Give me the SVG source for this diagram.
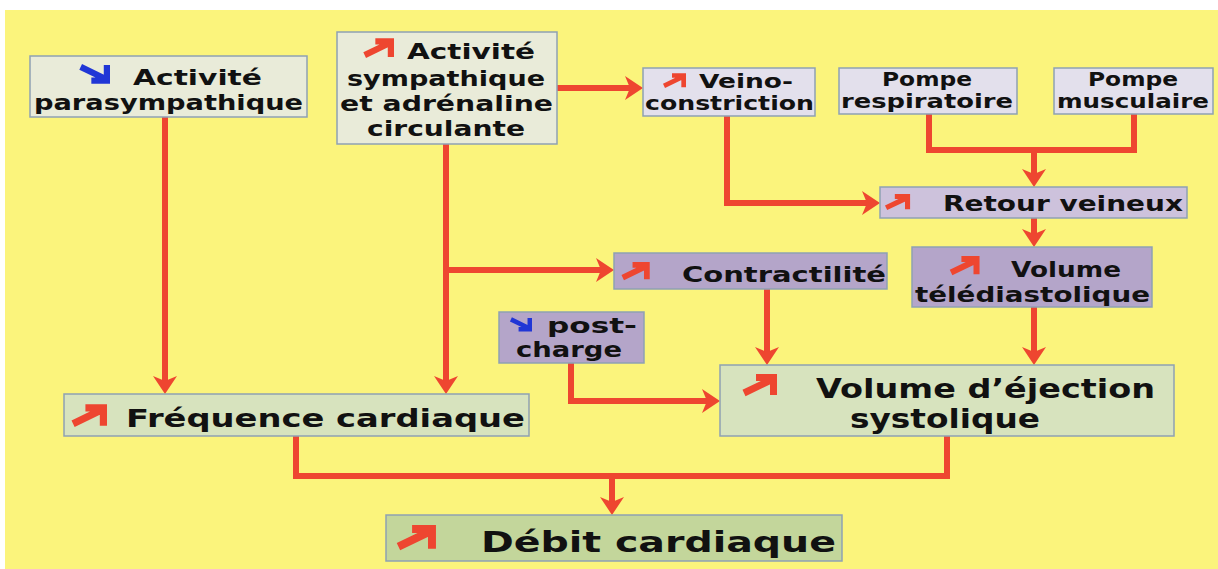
<svg xmlns="http://www.w3.org/2000/svg" width="1218" height="569" viewBox="0 0 1218 569">
<style>
.box{stroke:#8fa1b3;stroke-width:1.5}
.g1{fill:#e9ebd9}
.lav{fill:#e3e0ec}
.lav2{fill:#cdc2dc}
.pur{fill:#b4a5c9}
.lg{fill:#d7e3be}
.dg{fill:#c3d69b}
text{font-family:"DejaVu Sans","Liberation Sans",sans-serif;font-weight:bold;fill:#111}
.con{fill:none;stroke:#ee4630;stroke-width:6;stroke-linejoin:miter}
.arr{marker-end:url(#ah)}
</style>
<defs>
<marker id="ah" markerUnits="userSpaceOnUse" viewBox="0 0 18 24" refX="5" refY="12" markerWidth="18" markerHeight="24" orient="auto">
<path d="M0,0 L18,12 L0,24 L5,12 z" fill="#ee4630"/>
</marker>
<symbol id="up" viewBox="0 0 36 22" overflow="visible">
<path d="M3,19 L30,6 M15,3.5 L32.5,3.5 L32.5,21" fill="none" stroke="#ee4630" stroke-width="7" stroke-linejoin="miter"/>
</symbol>
<symbol id="down" viewBox="0 0 36 22" overflow="visible">
<path d="M3,3 L30,16 M15,18.5 L32.5,18.5 L32.5,1" fill="none" stroke="#2036d6" stroke-width="7" stroke-linejoin="miter"/>
</symbol>
</defs>
<rect x="0" y="0" width="1218" height="569" fill="#ffffff"/>
<rect x="5" y="10" width="1213" height="559" fill="#fbf47c"/>

<g id="connectors">
<path class="con arr" d="M165,117 V381"/>
<path class="con arr" d="M446,144 V381"/>
<path class="con arr" d="M446,270 H601"/>
<path class="con arr" d="M557,88 H630"/>
<path class="con arr" d="M727,116 V203 H867"/>
<path class="con" d="M929,114 V150 H1134 V114"/>
<path class="con arr" d="M1034,150 V174"/>
<path class="con arr" d="M1034,218 V234"/>
<path class="con arr" d="M767,289 V352"/>
<path class="con arr" d="M1034,307 V352"/>
<path class="con arr" d="M571,363 V401 H707"/>
<path class="con" d="M296,436 V476 H947 V436"/>
<path class="con arr" d="M612,476 V502"/>
</g>

<g id="parasympathique">
<rect class="box g1" x="30" y="56" width="277" height="61"/>
<use href="#down" x="78" y="64" width="32" height="20"/>
<text x="133" y="85" font-size="22" textLength="129" lengthAdjust="spacingAndGlyphs">Activité</text>
<text x="34" y="110" font-size="22" textLength="269" lengthAdjust="spacingAndGlyphs">parasympathique</text>
</g>

<g id="sympathique">
<rect class="box g1" x="337" y="32" width="220" height="112"/>
<use href="#up" x="362" y="38" width="32" height="20"/>
<text x="407" y="59" font-size="22" textLength="128" lengthAdjust="spacingAndGlyphs">Activité</text>
<text x="347" y="86" font-size="22" textLength="198" lengthAdjust="spacingAndGlyphs">sympathique</text>
<text x="340" y="111" font-size="22" textLength="213" lengthAdjust="spacingAndGlyphs">et adrénaline</text>
<text x="367" y="136" font-size="22" textLength="158" lengthAdjust="spacingAndGlyphs">circulante</text>
</g>

<g id="veino">
<rect class="box lav" x="643" y="68" width="172" height="48"/>
<use href="#up" x="662" y="73" width="24" height="15"/>
<text x="699" y="88" font-size="19" textLength="94" lengthAdjust="spacingAndGlyphs">Veino-</text>
<text x="645" y="110" font-size="19" textLength="169" lengthAdjust="spacingAndGlyphs">constriction</text>
</g>

<g id="pompe-resp">
<rect class="box lav" x="839" y="68" width="178" height="46"/>
<text x="882" y="86" font-size="19" textLength="90" lengthAdjust="spacingAndGlyphs">Pompe</text>
<text x="841" y="108" font-size="19" textLength="172" lengthAdjust="spacingAndGlyphs">respiratoire</text>
</g>

<g id="pompe-musc">
<rect class="box lav" x="1054" y="68" width="159" height="46"/>
<text x="1088" y="86" font-size="19" textLength="90" lengthAdjust="spacingAndGlyphs">Pompe</text>
<text x="1057" y="108" font-size="19" textLength="152" lengthAdjust="spacingAndGlyphs">musculaire</text>
</g>

<g id="retour">
<rect class="box lav2" x="880" y="187" width="307" height="31"/>
<use href="#up" x="883" y="194" width="28" height="16"/>
<text x="943" y="211" font-size="21" textLength="240" lengthAdjust="spacingAndGlyphs">Retour veineux</text>
</g>

<g id="contractilite">
<rect class="box pur" x="614" y="253" width="273" height="36"/>
<use href="#up" x="620" y="262" width="30" height="18"/>
<text x="682" y="282" font-size="22" textLength="204" lengthAdjust="spacingAndGlyphs">Contractilité</text>
</g>

<g id="teledia">
<rect class="box pur" x="912" y="247" width="240" height="60"/>
<use href="#up" x="948" y="256" width="32" height="19"/>
<text x="1011" y="277" font-size="22" textLength="110" lengthAdjust="spacingAndGlyphs">Volume</text>
<text x="915" y="302" font-size="22" textLength="235" lengthAdjust="spacingAndGlyphs">télédiastolique</text>
</g>

<g id="postcharge">
<rect class="box pur" x="499" y="312" width="145" height="51"/>
<use href="#down" x="509" y="317" width="23" height="15"/>
<text x="547" y="333" font-size="21" textLength="90" lengthAdjust="spacingAndGlyphs">post-</text>
<text x="516" y="357" font-size="21" textLength="106" lengthAdjust="spacingAndGlyphs">charge</text>
</g>

<g id="ves">
<rect class="box lg" x="720" y="365" width="454" height="71"/>
<use href="#up" x="741" y="374" width="36" height="22"/>
<text x="816" y="398" font-size="26" textLength="339" lengthAdjust="spacingAndGlyphs">Volume d’éjection</text>
<text x="850" y="428" font-size="26" textLength="190" lengthAdjust="spacingAndGlyphs">systolique</text>
</g>

<g id="frequence">
<rect class="box lg" x="64" y="394" width="465" height="42"/>
<use href="#up" x="70" y="404" width="37" height="23"/>
<text x="126" y="427" font-size="25" textLength="399" lengthAdjust="spacingAndGlyphs">Fréquence cardiaque</text>
</g>

<g id="debit">
<rect class="box dg" x="386" y="515" width="456" height="46"/>
<use href="#up" x="395" y="525" width="41" height="25"/>
<text x="481" y="552" font-size="29" textLength="355" lengthAdjust="spacingAndGlyphs">Débit cardiaque</text>
</g>
</svg>
